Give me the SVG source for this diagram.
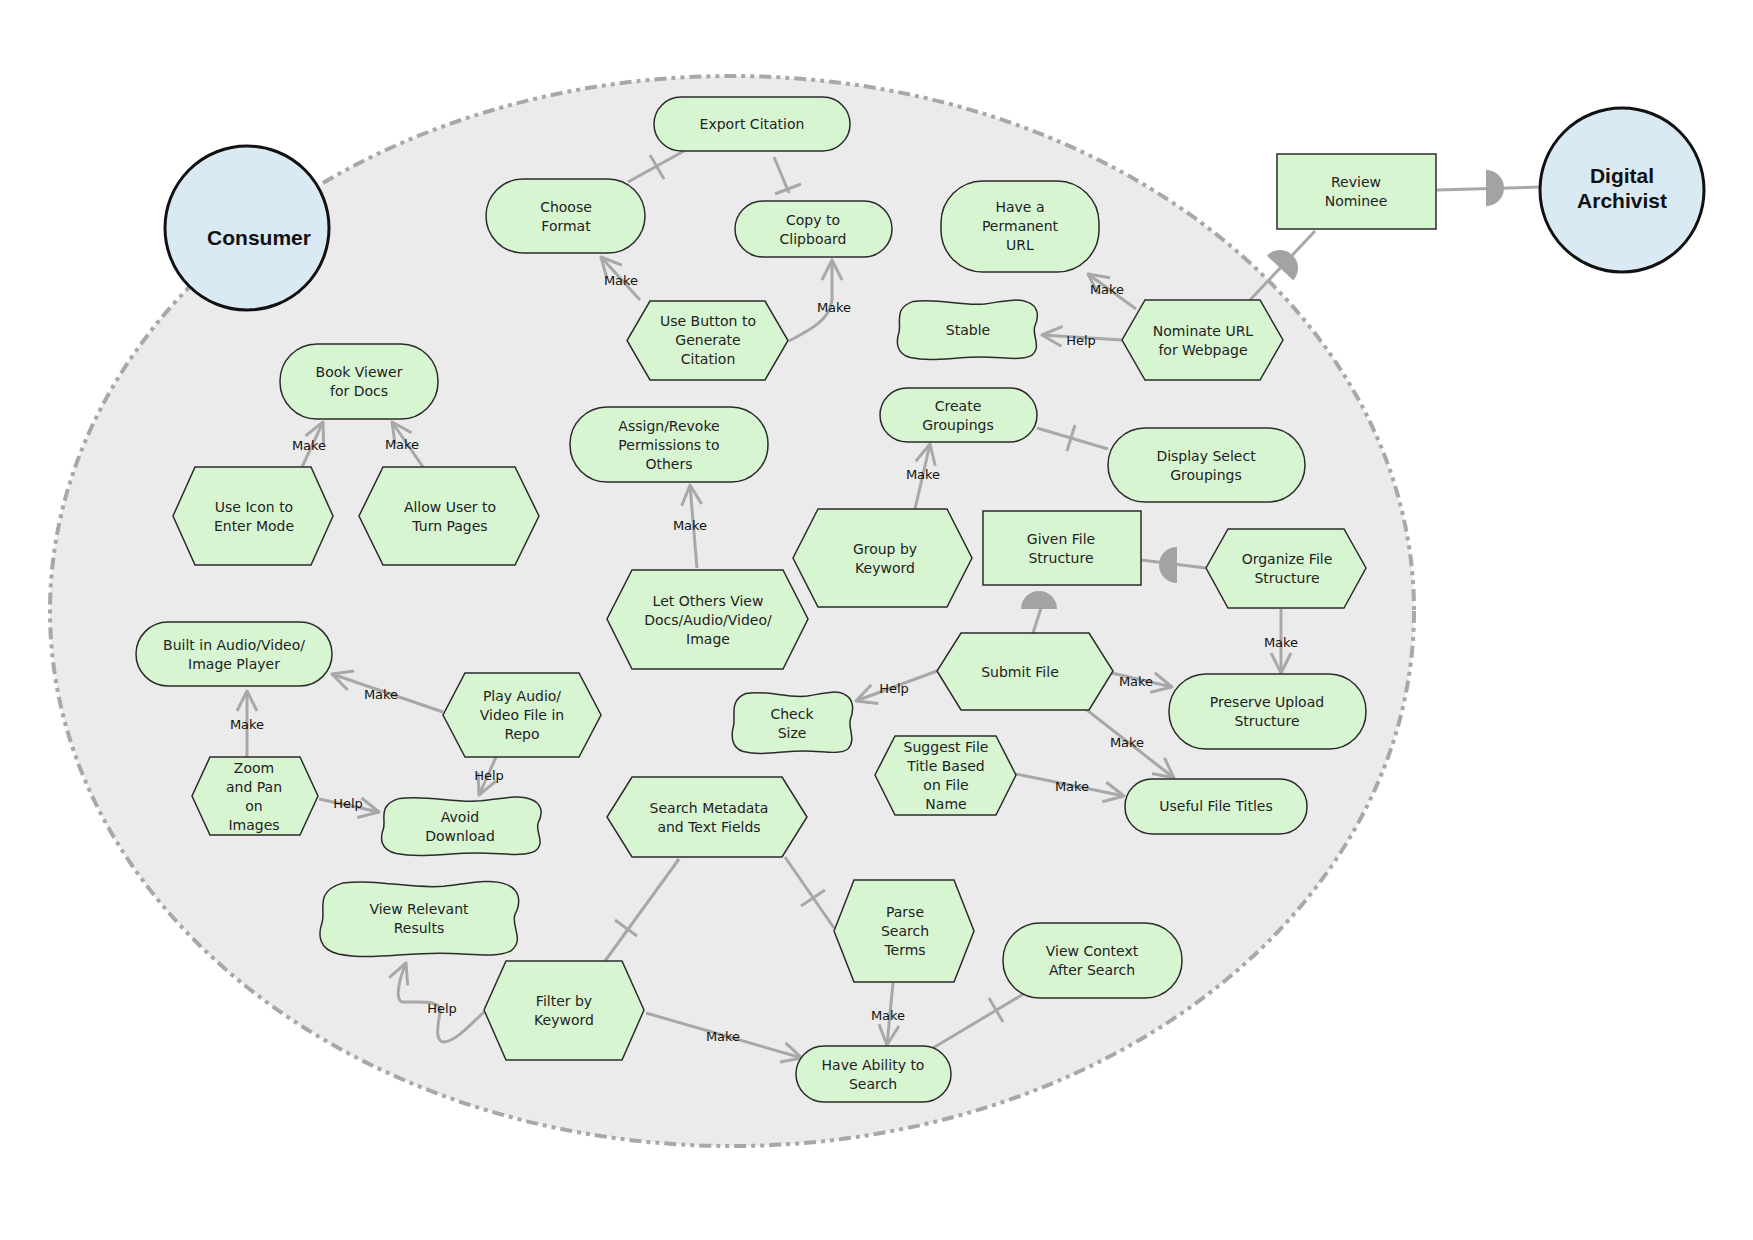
<svg xmlns="http://www.w3.org/2000/svg" width="1753" height="1240" viewBox="0 0 1753 1240">
<style>
.sh{fill:#d8f5d2;stroke:#2b2b2b;stroke-width:1.5}
.t{font-family:"DejaVu Sans",sans-serif;font-size:14px;fill:#222;text-anchor:middle}
.lbl{font-family:"DejaVu Sans",sans-serif;font-size:13px;fill:#111;text-anchor:middle}
.act{fill:#d9eaf4;stroke:#111;stroke-width:3}
.at{font-family:"Liberation Sans",Arial,sans-serif;font-size:21px;font-weight:bold;fill:#111;text-anchor:middle}
.ln{stroke:#a8a8a8;stroke-width:3;fill:none}
.arr{stroke:#a8a8a8;stroke-width:3;fill:none;marker-end:url(#ah)}
.dp{fill:#a3a3a3}
</style>
<defs>
<marker id="ah" viewBox="-24 -13 28 26" refX="0" refY="0" markerWidth="28" markerHeight="26" markerUnits="userSpaceOnUse" orient="auto">
<path d="M-20,-10 L0,0 L-20,10" fill="none" stroke="#a8a8a8" stroke-width="3" stroke-linejoin="round"/>
</marker>
<path id="dshape" d="M0,-18 A18,18 0 0 1 0,18 Z"/>
</defs>

<rect x="0" y="0" width="1753" height="1240" fill="#ffffff"/>

<g id="boundary">
<ellipse cx="732" cy="611" rx="682" ry="535" fill="#ebebeb" stroke="#a8a8a8" stroke-width="4" stroke-dasharray="12 5 4 5 4 5"/>
</g>

<g id="connectors">
<!-- AND refinements -->
<line class="ln" x1="628" y1="182" x2="684" y2="151"/>
<line class="ln" x1="650" y1="155" x2="664" y2="179"/>
<line class="ln" x1="774" y1="157" x2="789" y2="193"/>
<line class="ln" x1="775" y1="194" x2="801" y2="184"/>
<line class="ln" x1="1108" y1="449" x2="1037" y2="428"/>
<line class="ln" x1="1067" y1="451" x2="1075" y2="425"/>
<line class="ln" x1="679" y1="859" x2="605" y2="961"/>
<line class="ln" x1="615" y1="920" x2="637" y2="936"/>
<line class="ln" x1="785" y1="857" x2="834" y2="928"/>
<line class="ln" x1="801" y1="906" x2="825" y2="890"/>
<line class="ln" x1="1025" y1="993" x2="933" y2="1048"/>
<line class="ln" x1="989" y1="998" x2="1003" y2="1022"/>
<!-- dependencies -->
<line class="ln" x1="1250" y1="300" x2="1315" y2="231"/>
<use href="#dshape" class="dp" transform="translate(1280,268) rotate(-46.7)"/>
<line class="ln" x1="1437" y1="190" x2="1540" y2="187"/>
<use href="#dshape" class="dp" transform="translate(1486,188)"/>
<line class="ln" x1="1206" y1="568" x2="1141" y2="560"/>
<use href="#dshape" class="dp" transform="translate(1177,565) rotate(180)"/>
<line class="ln" x1="1033" y1="633" x2="1042" y2="605"/>
<use href="#dshape" class="dp" transform="translate(1039,609) rotate(-90)"/>
<!-- contributions -->
<line class="arr" x1="640" y1="300" x2="601" y2="257"/>
<path class="arr" d="M789,341 C810,330 830,320 832,300 L832,260"/>
<line class="arr" x1="1136" y1="309" x2="1088" y2="274"/>
<line class="arr" x1="1122" y1="340" x2="1042" y2="335"/>
<line class="arr" x1="302" y1="467" x2="323" y2="422"/>
<line class="arr" x1="423" y1="467" x2="392" y2="422"/>
<line class="arr" x1="697" y1="568" x2="690" y2="485"/>
<line class="arr" x1="915" y1="509" x2="930" y2="444"/>
<line class="arr" x1="937" y1="671" x2="856" y2="701"/>
<line class="arr" x1="1103" y1="671" x2="1172" y2="687"/>
<line class="arr" x1="1083" y1="707" x2="1174" y2="778"/>
<line class="arr" x1="1281" y1="609" x2="1281" y2="673"/>
<line class="arr" x1="1016" y1="774" x2="1124" y2="796"/>
<line class="arr" x1="443" y1="712" x2="332" y2="674"/>
<line class="arr" x1="247" y1="757" x2="247" y2="691"/>
<line class="arr" x1="496" y1="757" x2="479" y2="795"/>
<line class="arr" x1="319" y1="799" x2="379" y2="812"/>
<line class="arr" x1="646" y1="1013" x2="802" y2="1058"/>
<line class="arr" x1="893" y1="983" x2="887" y2="1045"/>
<path class="arr" d="M484,1012 C470,1025 455,1042 443,1042 C433,1040 440,1018 440,1010 C440,1003 430,1002 420,1002 L402,1002 C396,1000 397,985 406,963"/>
<!-- labels -->
<text class="lbl" x="621" y="285">Make</text>
<text class="lbl" x="834" y="312">Make</text>
<text class="lbl" x="1107" y="294">Make</text>
<text class="lbl" x="1081" y="345">Help</text>
<text class="lbl" x="309" y="450">Make</text>
<text class="lbl" x="402" y="449">Make</text>
<text class="lbl" x="690" y="530">Make</text>
<text class="lbl" x="923" y="479">Make</text>
<text class="lbl" x="894" y="693">Help</text>
<text class="lbl" x="1136" y="686">Make</text>
<text class="lbl" x="1127" y="747">Make</text>
<text class="lbl" x="1281" y="647">Make</text>
<text class="lbl" x="1072" y="791">Make</text>
<text class="lbl" x="381" y="699">Make</text>
<text class="lbl" x="247" y="729">Make</text>
<text class="lbl" x="489" y="780">Help</text>
<text class="lbl" x="348" y="808">Help</text>
<text class="lbl" x="723" y="1041">Make</text>
<text class="lbl" x="888" y="1020">Make</text>
<text class="lbl" x="442" y="1013">Help</text>
</g>

<g id="consumer">
<circle class="act" cx="247" cy="228" r="82"/>
<text class="at" x="259" y="245">Consumer</text>
</g>
<g id="digital-archivist">
<circle class="act" cx="1622" cy="190" r="82"/>
<text class="at" x="1622" y="183">Digital</text>
<text class="at" x="1622" y="208">Archivist</text>
</g>

<g id="export-citation">
<rect class="sh" x="654" y="97" width="196" height="54" rx="27"/>
<text class="t" x="752" y="129">Export Citation</text>
</g>
<g id="choose-format">
<rect class="sh" x="486" y="179" width="159" height="74" rx="37"/>
<text class="t" x="566" y="211.5">Choose</text>
<text class="t" x="566" y="230.5">Format</text>
</g>
<g id="copy-to-clipboard">
<rect class="sh" x="735" y="201" width="157" height="56" rx="28"/>
<text class="t" x="813" y="224.5">Copy to</text>
<text class="t" x="813" y="243.5">Clipboard</text>
</g>
<g id="use-button">
<polygon class="sh" points="650,301 765,301 788,340.5 765,380 650,380 627,340.5"/>
<text class="t" x="708" y="326">Use Button to</text>
<text class="t" x="708" y="345">Generate</text>
<text class="t" x="708" y="364">Citation</text>
</g>
<g id="permanent-url">
<rect class="sh" x="941" y="181" width="158" height="91" rx="42"/>
<text class="t" x="1020" y="212">Have a</text>
<text class="t" x="1020" y="231">Permanent</text>
<text class="t" x="1020" y="250">URL</text>
</g>
<g id="stable">
<path class="sh" d="M913.2,301.4 C938.9,297.8 960.4,306.3 984.7,303.9 C1003.3,301.4 1017.6,297.8 1027.6,302.1 C1039,306.3 1039,317.3 1034.7,326.5 C1031.9,335.6 1041.9,346.6 1031.9,355.1 C1021.8,361.2 1003.3,357 981.8,357 C953.2,357 931.8,362.4 910.3,357.6 C896,353.9 896,341.7 898.9,332.6 C901.7,323.4 893.1,308.2 913.2,301.4 Z"/>
<text class="t" x="968" y="335">Stable</text>
</g>
<g id="nominate-url">
<polygon class="sh" points="1145,300 1260,300 1283,340 1260,380 1145,380 1122,340"/>
<text class="t" x="1203" y="336">Nominate URL</text>
<text class="t" x="1203" y="355">for Webpage</text>
</g>
<g id="review-nominee">
<rect class="sh" x="1277" y="154" width="159" height="75" stroke-width="2"/>
<text class="t" x="1356" y="187">Review</text>
<text class="t" x="1356" y="206">Nominee</text>
</g>
<g id="book-viewer">
<rect class="sh" x="280" y="344" width="158" height="75" rx="37"/>
<text class="t" x="359" y="377">Book Viewer</text>
<text class="t" x="359" y="396">for Docs</text>
</g>
<g id="use-icon">
<polygon class="sh" points="195,467 311,467 333,516 311,565 195,565 173,516"/>
<text class="t" x="254" y="512">Use Icon to</text>
<text class="t" x="254" y="531">Enter Mode</text>
</g>
<g id="allow-user">
<polygon class="sh" points="383,467 515,467 539,516 515,565 383,565 359,516"/>
<text class="t" x="450" y="512">Allow User to</text>
<text class="t" x="450" y="531">Turn Pages</text>
</g>
<g id="assign-revoke">
<rect class="sh" x="570" y="407" width="198" height="75" rx="37"/>
<text class="t" x="669" y="431">Assign/Revoke</text>
<text class="t" x="669" y="450">Permissions to</text>
<text class="t" x="669" y="469">Others</text>
</g>
<g id="create-groupings">
<rect class="sh" x="880" y="388" width="157" height="54" rx="27"/>
<text class="t" x="958" y="410.5">Create</text>
<text class="t" x="958" y="429.5">Groupings</text>
</g>
<g id="display-select">
<rect class="sh" x="1108" y="428" width="197" height="74" rx="37"/>
<text class="t" x="1206" y="460.5">Display Select</text>
<text class="t" x="1206" y="479.5">Groupings</text>
</g>
<g id="group-by-keyword">
<polygon class="sh" points="818,509 947,509 972,558 947,607 818,607 793,558"/>
<text class="t" x="885" y="554">Group by</text>
<text class="t" x="885" y="573">Keyword</text>
</g>
<g id="given-file-structure">
<rect class="sh" x="983" y="511" width="158" height="74" stroke-width="2"/>
<text class="t" x="1061" y="543.5">Given File</text>
<text class="t" x="1061" y="562.5">Structure</text>
</g>
<g id="organize-file-structure">
<polygon class="sh" points="1228,529 1344,529 1366,568 1344,608 1228,608 1206,568"/>
<text class="t" x="1287" y="564">Organize File</text>
<text class="t" x="1287" y="583">Structure</text>
</g>
<g id="let-others-view">
<polygon class="sh" points="632,570 783,570 808,619 783,669 632,669 607,619"/>
<text class="t" x="708" y="606">Let Others View</text>
<text class="t" x="708" y="625">Docs/Audio/Video/</text>
<text class="t" x="708" y="644">Image</text>
</g>
<g id="built-in-player">
<rect class="sh" x="136" y="622" width="196" height="64" rx="32"/>
<text class="t" x="234" y="649.5">Built in Audio/Video/</text>
<text class="t" x="234" y="668.5">Image Player</text>
</g>
<g id="play-audio">
<polygon class="sh" points="465,673 579,673 601,715 579,757 465,757 443,715"/>
<text class="t" x="522" y="701">Play Audio/</text>
<text class="t" x="522" y="720">Video File in</text>
<text class="t" x="522" y="739">Repo</text>
</g>
<g id="submit-file">
<polygon class="sh" points="961,633 1089,633 1113,671 1089,710 961,710 937,671"/>
<text class="t" x="1020" y="677">Submit File</text>
</g>
<g id="check-size">
<path class="sh" d="M745.8,693.5 C767.9,689.7 786.4,698.6 807.3,696 C823.3,693.5 835.6,689.7 844.2,694.2 C854,698.6 854,709.9 850.3,719.4 C847.9,728.8 856.5,740.1 847.9,749 C839.2,755.3 823.3,750.9 804.8,750.9 C780.2,750.9 761.8,756.5 743.3,751.5 C731,747.7 731,735.1 733.5,725.7 C735.9,716.2 728.5,700.5 745.8,693.5 Z"/>
<text class="t" x="792" y="718.5">Check</text>
<text class="t" x="792" y="737.5">Size</text>
</g>
<g id="preserve-upload">
<rect class="sh" x="1169" y="674" width="197" height="75" rx="37"/>
<text class="t" x="1267" y="707">Preserve Upload</text>
<text class="t" x="1267" y="726">Structure</text>
</g>
<g id="zoom-and-pan">
<polygon class="sh" points="210,757 300,757 318,796 300,835 210,835 192,796"/>
<text class="t" x="254" y="772.5">Zoom</text>
<text class="t" x="254" y="791.5">and Pan</text>
<text class="t" x="254" y="810.5">on</text>
<text class="t" x="254" y="829.5">Images</text>
</g>
<g id="avoid-download">
<path class="sh" d="M399.6,798.4 C428.9,794.8 453.4,803.2 481.1,800.8 C502.3,798.4 518.6,794.8 530,799 C543,803.2 543,814 538.1,823 C534.9,832 546.3,842.8 534.9,851.2 C523.4,857.2 502.3,853 477.8,853 C445.2,853 420.8,858.4 396.3,853.6 C380,850 380,838 383.3,829 C386.5,820 376.7,805 399.6,798.4 Z"/>
<text class="t" x="460" y="821.5">Avoid</text>
<text class="t" x="460" y="840.5">Download</text>
</g>
<g id="suggest-file-title">
<polygon class="sh" points="895,736 996,736 1016,775 996,815 895,815 875,775"/>
<text class="t" x="946" y="752">Suggest File</text>
<text class="t" x="946" y="771">Title Based</text>
<text class="t" x="946" y="790">on File</text>
<text class="t" x="946" y="809">Name</text>
</g>
<g id="useful-file-titles">
<rect class="sh" x="1125" y="779" width="182" height="55" rx="27"/>
<text class="t" x="1216" y="811">Useful File Titles</text>
</g>
<g id="search-metadata">
<polygon class="sh" points="632,777 782,777 807,817 782,857 632,857 607,817"/>
<text class="t" x="709" y="812.5">Search Metadata</text>
<text class="t" x="709" y="831.5">and Text Fields</text>
</g>
<g id="view-relevant-results">
<path class="sh" d="M342.4,883.1 C378.9,878.5 409.4,889.2 443.9,886.2 C470.3,883.1 490.6,878.5 504.8,883.9 C521,889.2 521,903.1 514.9,914.7 C510.9,926.2 525.1,940.1 510.9,950.8 C496.6,958.5 470.3,953.2 439.8,953.2 C399.2,953.2 368.8,960.1 338.3,953.9 C318,949.3 318,933.9 322.1,922.4 C326.1,910.8 313.9,891.6 342.4,883.1 Z"/>
<text class="t" x="419" y="914">View Relevant</text>
<text class="t" x="419" y="933">Results</text>
</g>
<g id="parse-search-terms">
<polygon class="sh" points="854,880 954,880 974,931 954,982 854,982 834,931"/>
<text class="t" x="905" y="917">Parse</text>
<text class="t" x="905" y="936">Search</text>
<text class="t" x="905" y="955">Terms</text>
</g>
<g id="view-context">
<rect class="sh" x="1003" y="923" width="179" height="75" rx="37"/>
<text class="t" x="1092" y="956">View Context</text>
<text class="t" x="1092" y="975">After Search</text>
</g>
<g id="filter-by-keyword">
<polygon class="sh" points="506,961 622,961 644,1010 622,1060 506,1060 484,1010"/>
<text class="t" x="564" y="1006">Filter by</text>
<text class="t" x="564" y="1025">Keyword</text>
</g>
<g id="have-ability-to-search">
<rect class="sh" x="796" y="1046" width="155" height="56" rx="28"/>
<text class="t" x="873" y="1069.5">Have Ability to</text>
<text class="t" x="873" y="1088.5">Search</text>
</g>
</svg>
